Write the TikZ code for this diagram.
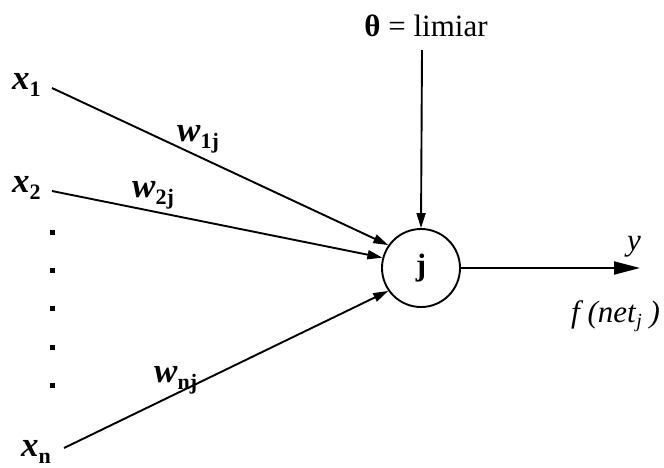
\documentclass[tikz,border=0pt]{standalone}
\usepackage{fontspec}
\setmainfont{Liberation Serif}
\usetikzlibrary{arrows.meta}

\newcommand{\wlbl}[2]{{\fontsize{35}{38}\selectfont\bfseries\itshape #1}\raisebox{-7pt}{\fontsize{22}{24}\selectfont\bfseries #2}}

\begin{document}
\begin{tikzpicture}[x=1pt,y=-1pt,
    lbl/.style={inner sep=0pt, font=\fontsize{31}{34}\selectfont},
    wire/.style={line width=1.9pt, -{Triangle[length=15pt,width=9pt]}},
    outwire/.style={line width=1.9pt, -{Triangle[length=26pt,width=13pt]}},
    neuron/.style={circle, draw, line width=1.9pt, minimum size=78pt, inner sep=0pt}]
    \useasboundingbox (0,0) rectangle (664,467);
    % Neuron
    \node[neuron, lbl] (j) at (421,268) {\textbf{j}};
    % Inputs
    \node[lbl, anchor=base west] (x1) at (12,89) {\wlbl{x}{1}};
    \node[lbl, anchor=base west] (x2) at (12,192) {\wlbl{x}{2}};
    \node[lbl, anchor=base west] (xn) at (21,456) {\wlbl{x}{n}};
    \coordinate (in1) at (52,88);
    \coordinate (in2) at (52,191);
    \coordinate (inn) at (64,448);
    \draw[wire] (in1) -- (j.145);
    \draw[wire] (in2) -- (j.165);
    \draw[wire] (inn) -- (j.215);
    % Weights
    \node[lbl, anchor=base west] (w1) at (177,141) {\wlbl{w}{1j}};
    \node[lbl, anchor=base west] (w2) at (132,197) {\wlbl{w}{2j}};
    \node[lbl, anchor=base west] (wn) at (154,382) {\wlbl{w}{nj}};
    % Dots
    \foreach \y in {232,270,308,347,385}
        \fill (50,\y-2.5) rectangle ++(5,5);
    % Threshold
    \node[lbl, anchor=base] (theta) at (426,36) {\textbf{θ} = limiar};
    \coordinate (tin) at (422,50);
    \draw[wire] (tin) -- (j.north);
    % Output
    \coordinate (out) at (640,268);
    \draw[outwire] (j.east) -- (out);
    \node[lbl, anchor=base] (y) at (634,250) {\textit{y}};
    \node[lbl, anchor=base west] (f) at (571,322) {\textit{f (net}\raisebox{-5pt}{\fontsize{20}{22}\selectfont\itshape j}\textit{ )}};
\end{tikzpicture}
\end{document}
